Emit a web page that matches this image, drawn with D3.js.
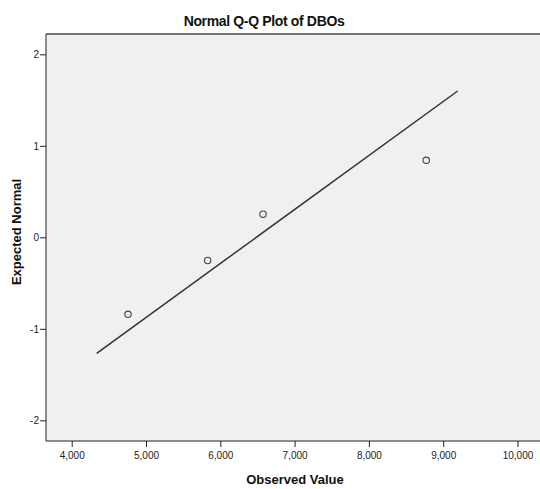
<!DOCTYPE html>
<html><head><meta charset="utf-8">
<script src="https://cdn.jsdelivr.net/npm/d3@7/dist/d3.min.js"></script>
<style>body{margin:0;background:#fff;} svg{display:block;}</style>
</head><body>
<script>
const observed = [4758, 5830, 6575, 8772];
const expected = [-0.8416, -0.2533, 0.2533, 0.8416];
const lineX = [4336, 9195];
const lineY = [-1.268, 1.599];
const xTicks = [4000, 5000, 6000, 7000, 8000, 9000, 10000];
const yTicks = [-2, -1, 0, 1, 2];
const title = "Normal Q-Q Plot of DBOs";
const xLabel = "Observed Value";
const yLabel = "Expected Normal";

const W = 540, H = 489;
const L = 46, T = 34, R = 540, B = 441;
const svg = d3.select("body").append("svg").attr("width", W).attr("height", H);

const x = d3.scaleLinear().domain([3654, 10303]).range([L, R]);
const y = d3.scaleLinear().domain([-2.226, 2.222]).range([B, T]);

svg.append("rect").attr("x", L).attr("y", T).attr("width", R - L).attr("height", B - T)
  .attr("fill", "#f0f0f0");
svg.append("line").attr("x1", L).attr("x2", R).attr("y1", T).attr("y2", T)
  .attr("stroke", "#777").attr("stroke-width", 2);
svg.append("line").attr("x1", L).attr("x2", R).attr("y1", B).attr("y2", B)
  .attr("stroke", "#222").attr("stroke-width", 1);
svg.append("line").attr("x1", L).attr("x2", L).attr("y1", T).attr("y2", B)
  .attr("stroke", "#222").attr("stroke-width", 1);

const xAxis = svg.append("g").attr("transform", `translate(0,${B})`)
  .call(d3.axisBottom(x).tickValues(xTicks).tickFormat(d3.format(",")).tickSize(6).tickSizeOuter(0));
xAxis.select(".domain").remove();
xAxis.selectAll("line").attr("stroke", "#222");
xAxis.selectAll("text").attr("fill", "#222").attr("font-family", "Liberation Sans, Arial, sans-serif")
  .attr("font-size", 10).attr("dy", "0.9em");

const yAxis = svg.append("g").attr("transform", `translate(${L},0)`)
  .call(d3.axisLeft(y).tickValues(yTicks).tickFormat(d => String(d)).tickSize(6).tickSizeOuter(0));
yAxis.select(".domain").remove();
yAxis.selectAll("line").attr("stroke", "#222");
yAxis.selectAll("text").attr("fill", "#222").attr("font-family", "Liberation Sans, Arial, sans-serif")
  .attr("font-size", 10).attr("x", -7);

svg.append("line")
  .attr("x1", x(lineX[0])).attr("y1", y(lineY[0]))
  .attr("x2", x(lineX[1])).attr("y2", y(lineY[1]))
  .attr("stroke", "#333").attr("stroke-width", 1.5);

svg.selectAll("circle.pt").data(observed).enter().append("circle")
  .attr("class", "pt")
  .attr("cx", d => x(d)).attr("cy", (d, i) => y(expected[i]))
  .attr("r", 3.2).attr("fill", "none").attr("stroke", "#444").attr("stroke-width", 1.1);

svg.append("text").attr("x", 264).attr("y", 26).attr("text-anchor", "middle")
  .attr("font-family", "Liberation Sans, Arial, sans-serif").attr("font-weight", "bold")
  .attr("font-size", 14).attr("letter-spacing", -0.35).attr("fill", "#111").text(title);

svg.append("text").attr("x", 295).attr("y", 484).attr("text-anchor", "middle")
  .attr("font-family", "Liberation Sans, Arial, sans-serif").attr("font-weight", "bold")
  .attr("font-size", 13).attr("fill", "#111").text(xLabel);

svg.append("text").attr("transform", "translate(21,232) rotate(-90)").attr("text-anchor", "middle")
  .attr("font-family", "Liberation Sans, Arial, sans-serif").attr("font-weight", "bold")
  .attr("font-size", 13).attr("fill", "#111").text(yLabel);
</script>
</body></html>
